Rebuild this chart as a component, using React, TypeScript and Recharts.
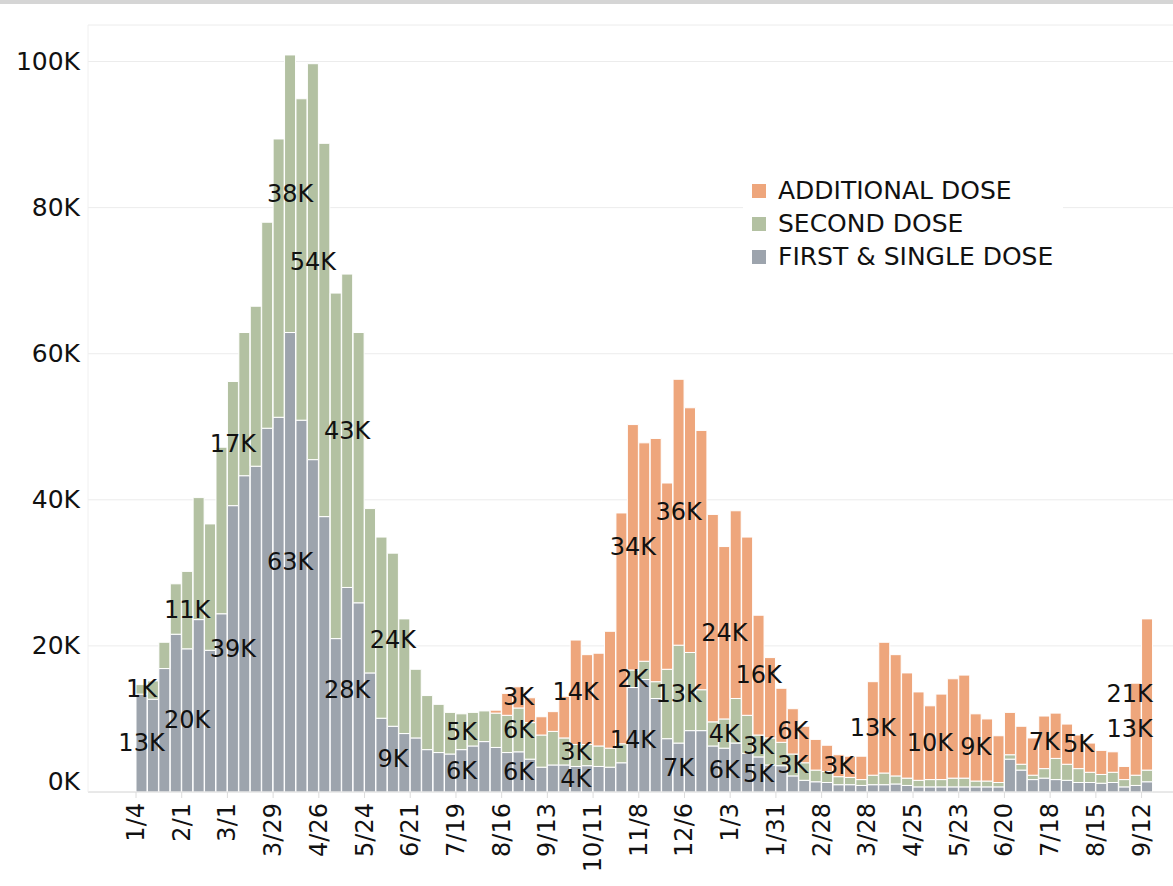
import React from 'react';
import { BarChart, Bar, XAxis, YAxis, CartesianGrid, Legend, LabelList } from 'recharts';

// Weekly doses (thousands), weeks starting Monday 1/4/2021
const FIRST_DOSE = [
  13.4, 12.7, 16.9, 21.6, 19.6, 23.6, 19.4, 24.4, 39.2, 43.3,
  44.6, 49.8, 51.3, 62.9, 50.9, 45.5, 37.7, 21.0, 28.0, 25.9,
  16.3, 10.1, 9.0, 8.0, 7.4, 5.8, 5.4, 5.2, 5.8, 6.3,
  6.9, 6.1, 5.4, 5.5, 4.5, 3.4, 3.7, 3.7, 3.5, 3.6,
  3.5, 3.4, 4.0, 14.3, 15.4, 12.8, 7.3, 6.7, 8.4, 8.4,
  6.3, 6.0, 6.7, 5.3, 4.8, 3.7, 3.6, 2.2, 1.6, 1.4,
  1.3, 1.0, 1.0, 0.9, 1.0, 1.0, 1.1, 0.9, 0.7, 0.7,
  0.7, 0.7, 0.7, 0.7, 0.7, 0.7, 4.5, 3.0, 1.7, 1.9,
  1.7, 1.6, 1.3, 1.3, 1.2, 1.3, 0.7, 0.9, 1.4,
];
const SECOND_DOSE = [
  1.3, 2.5, 3.6, 6.9, 10.6, 16.7, 17.3, 22.8, 17.0, 19.6,
  21.9, 28.2, 38.1, 38.0, 44.0, 54.2, 51.1, 47.3, 42.9, 37.0,
  22.5, 24.8, 23.7, 15.7, 9.4, 7.4, 6.6, 5.7, 4.9, 4.6,
  4.2, 4.7, 5.1, 6.0, 5.0, 4.4, 4.6, 3.7, 3.0, 2.9,
  2.8, 2.6, 2.6, 2.4, 2.5, 2.3, 9.5, 13.4, 10.7, 5.6,
  3.3, 4.0, 6.1, 5.2, 3.0, 3.7, 3.2, 3.0, 2.4, 1.6,
  1.5, 1.1, 1.0, 0.8, 1.3, 1.6, 1.1, 1.0, 0.9, 1.0,
  1.0, 1.2, 1.2, 0.8, 0.8, 0.6, 0.6, 0.8, 0.6, 1.3,
  2.9, 2.2, 1.9, 1.4, 1.2, 1.4, 1.0, 1.4, 1.6,
];
const ADDITIONAL_DOSE = [
  0, 0, 0, 0, 0, 0, 0, 0, 0, 0,
  0, 0, 0, 0, 0, 0, 0, 0, 0, 0,
  0, 0, 0, 0, 0, 0, 0, 0, 0, 0,
  0, 0.4, 3.0, 2.9, 3.4, 2.5, 2.7, 5.7, 14.3, 12.3,
  12.7, 16.0, 31.6, 33.6, 29.9, 33.3, 25.5, 36.4, 33.5, 35.5,
  28.4, 23.6, 25.7, 24.4, 16.4, 11.0, 7.4, 6.2, 5.0, 4.2,
  3.6, 3.0, 2.9, 3.2, 12.8, 17.9, 16.6, 14.4, 12.1, 10.1,
  11.7, 13.6, 14.1, 9.2, 8.5, 6.4, 5.8, 5.2, 5.1, 7.2,
  6.2, 5.5, 4.6, 4.0, 3.3, 2.8, 1.8, 12.6, 20.7,
];

// Bars that carry a value label, per series
const LABELED_FIRST = [0, 4, 8, 13, 18, 22, 28, 33, 38, 43, 47, 51, 54];
const LABELED_SECOND = [0, 4, 8, 13, 15, 18, 22, 28, 33, 38, 43, 47, 51, 54, 57];
const LABELED_ADDITIONAL = [33, 38, 43, 47, 51, 54, 57, 61, 64, 69, 73, 79, 82, 87, 88];

const Y_TICKS = [0, 20, 40, 60, 80, 100];
const TICK_EVERY = 4;

const SERIES = [
  { key: 'first', name: 'FIRST & SINGLE DOSE', color: '#9da4ad', values: FIRST_DOSE, labeled: LABELED_FIRST },
  { key: 'second', name: 'SECOND DOSE', color: '#b3c1a2', values: SECOND_DOSE, labeled: LABELED_SECOND },
  { key: 'additional', name: 'ADDITIONAL DOSE', color: '#eea67c', values: ADDITIONAL_DOSE, labeled: LABELED_ADDITIONAL },
];

const WEEK_LABELS = FIRST_DOSE.map((_, i) => {
  const d = new Date(Date.UTC(2021, 0, 4 + 7 * i));
  return `${d.getUTCMonth() + 1}/${d.getUTCDate()}`;
});

const fmt = (v: number) => `${Math.round(v)}K`;

const data = WEEK_LABELS.map((week, i) => {
  const row: any = { week };
  SERIES.forEach((s) => {
    row[s.key] = s.values[i];
    row[`${s.key}Label`] = s.labeled.includes(i) ? fmt(s.values[i]) : '';
  });
  return row;
});

// Layout
const W = 1173;
const H = 886;
const Y_AXIS_W = 88;
const PAD_LEFT = 48;
const PAD_RIGHT = 20;
const BAND = (W - Y_AXIS_W - PAD_LEFT - PAD_RIGHT) / data.length;
const BARS_RIGHT = W - PAD_RIGHT;
const MIN_LABEL_GAP = 27;
const FONT = '"DejaVu Sans", "Noto Sans", sans-serif';

const makeSegmentLabel = (seriesIdx: number) => (props: any) => {
  const { x, y, width, height, value, index } = props;
  if (!value) return null;
  const text = String(value);
  const half = text.length * 7.8;
  let cx = Number(x) + Number(width) / 2;
  if (cx + half > BARS_RIGHT) cx = BARS_RIGHT - half;
  let cy = Number(y) + Number(height) / 2;
  const own = SERIES[seriesIdx].values[index];
  if (typeof index === 'number' && own > 0 && seriesIdx > 0) {
    const pxPerK = Number(height) / own;
    let below = 0;
    for (let j = seriesIdx - 1; j >= 0; j--) {
      const vj = SERIES[j].values[index];
      if (SERIES[j].labeled.includes(index)) {
        const belowCenter = Number(y) + Number(height) + (below + vj / 2) * pxPerK;
        if (belowCenter - cy < MIN_LABEL_GAP) cy = belowCenter - MIN_LABEL_GAP;
        break;
      }
      below += vj;
    }
  }
  return (
    <text
      x={cx}
      y={cy}
      textAnchor="middle"
      dominantBaseline="central"
      fontSize={24}
      fontFamily={FONT}
      fill="#111"
    >
      {text}
    </text>
  );
};

const YTick = (props: any) => {
  const { x, y, payload } = props;
  const yy = payload.value === 0 ? y - 11 : y;
  return (
    <text x={x} y={yy} textAnchor="end" dominantBaseline="central" fontSize={25} fontFamily={FONT} fill="#111">
      {`${payload.value}K`}
    </text>
  );
};

const XTick = (props: any) => {
  const { x, y, index, payload } = props;
  if (index % TICK_EVERY !== 0) return null;
  const lx = x - BAND / 2;
  return (
    <g>
      <line x1={lx} x2={lx} y1={y - 8} y2={y - 2} stroke="#dcdcdc" strokeWidth={1} />
      <text
        transform={`translate(${lx}, ${y + 3}) rotate(-90)`}
        textAnchor="end"
        dominantBaseline="central"
        fontSize={24}
        fontFamily={FONT}
        fill="#111"
      >
        {payload.value}
      </text>
    </g>
  );
};

const LegendContent = (props: any) => {
  const payload = props.payload || [];
  const items = [...SERIES].reverse().map((s) => {
    const p = payload.find((e: any) => e.value === s.name);
    return { value: s.name, color: p ? p.color : s.color };
  });
  return (
    <div style={{ background: '#fff', width: 320, height: 100, paddingTop: 2, boxSizing: 'border-box' }}>
      {items.map((it) => (
        <div key={it.value} style={{ display: 'flex', alignItems: 'center', height: 33 }}>
          <div style={{ width: 14, height: 14, background: it.color, marginLeft: 9, marginRight: 12, flexShrink: 0 }} />
          <span style={{ fontFamily: FONT, fontSize: 25, color: '#111', lineHeight: '33px', whiteSpace: 'nowrap' }}>
            {it.value}
          </span>
        </div>
      ))}
    </div>
  );
};

export default function App() {
  return (
    <div style={{ position: 'absolute', left: 0, top: 0, width: W, height: H, background: '#fff', overflow: 'hidden' }}>
      <div style={{ position: 'absolute', left: 0, top: 0, width: W, height: 4, background: '#d5d5d5' }} />
      <BarChart
        width={W}
        height={H}
        data={data}
        margin={{ top: 25, right: 0, left: 0, bottom: 0 }}
        barCategoryGap={0}
      >
        <CartesianGrid vertical={false} stroke="#ececec" />
        <XAxis
          dataKey="week"
          height={94}
          interval={0}
          padding={{ left: PAD_LEFT, right: PAD_RIGHT }}
          tickLine={false}
          axisLine={{ stroke: '#dcdcdc' }}
          tick={<XTick />}
        />
        <YAxis
          width={Y_AXIS_W}
          domain={[0, 105]}
          ticks={Y_TICKS}
          tickLine={false}
          axisLine={{ stroke: '#f0f0f0' }}
          tick={<YTick />}
        />
        <Legend
          layout="vertical"
          align="center"
          verticalAlign="middle"
          wrapperStyle={{ left: 743, top: 172, width: 320, height: 100 }}
          content={<LegendContent />}
        />
        {SERIES.map((s, si) => (
          <Bar
            key={s.key}
            dataKey={s.key}
            name={s.name}
            stackId="a"
            fill={s.color}
            stroke="#ffffff"
            strokeWidth={1}
            isAnimationActive={false}
          >
            <LabelList dataKey={`${s.key}Label`} content={makeSegmentLabel(si)} />
          </Bar>
        ))}
      </BarChart>
    </div>
  );
}
